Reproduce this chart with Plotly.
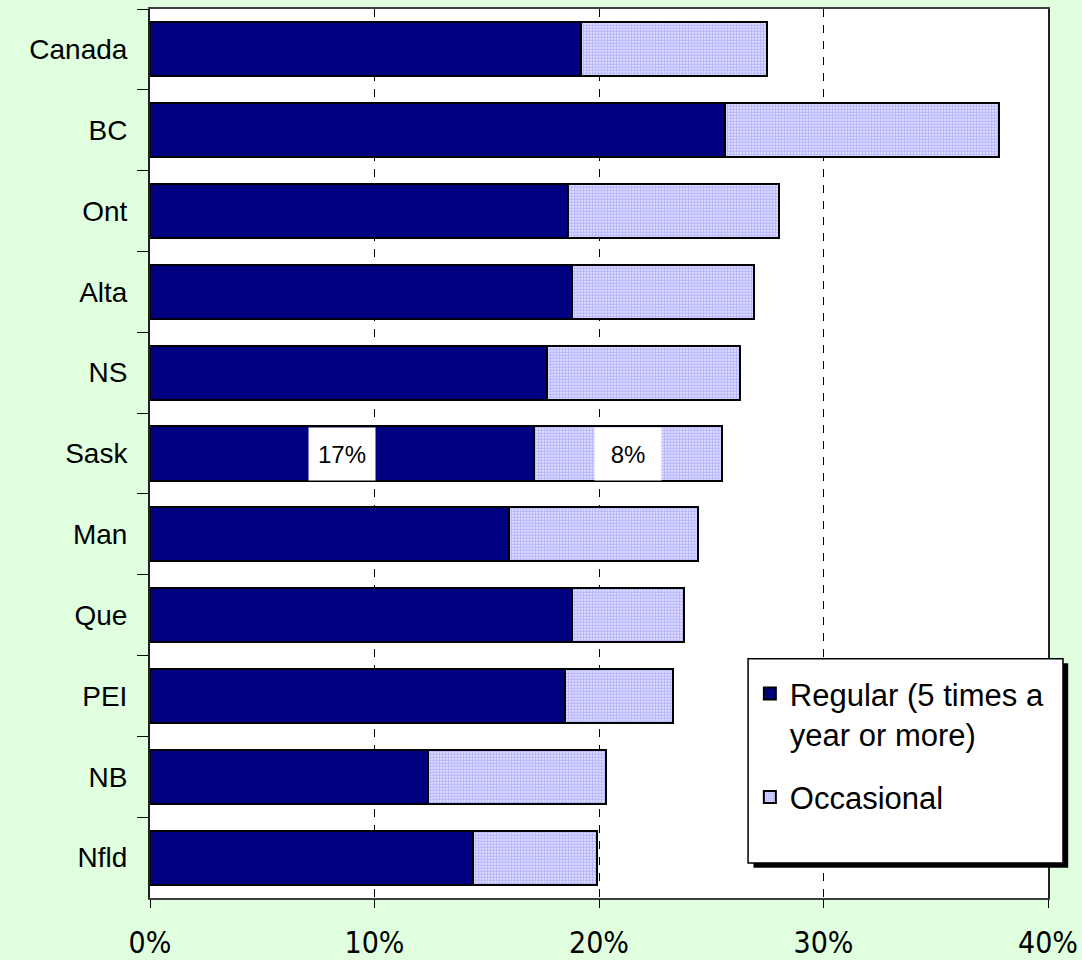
import plotly.graph_objects as go

categories = ["Canada", "BC", "Ont", "Alta", "NS", "Sask", "Man", "Que", "PEI", "NB", "Nfld"]
regular = [19.2, 25.6, 18.6, 18.8, 17.7, 17.1, 16.0, 18.8, 18.5, 12.4, 14.4]
occasional = [8.3, 12.2, 9.4, 8.1, 8.6, 8.4, 8.4, 5.0, 4.8, 7.9, 5.5]
x_ticks = [0, 10, 20, 30, 40]
x_tick_labels = ["0%", "10%", "20%", "30%", "40%"]
labelled_category = "Sask"

fig = go.Figure()
fig.add_trace(go.Bar(
    y=categories, x=regular, orientation="h", name="Regular (5 times a<br>year or more)",
    marker=dict(color="#000080", line=dict(color="black", width=2)),
    legendgroup="a",
))
fig.add_trace(go.Bar(
    y=categories, x=occasional, orientation="h", name="Occasional",
    marker=dict(color="#ccccff", line=dict(color="black", width=2),
                pattern=dict(shape=".", size=3, solidity=0.7, fgcolor="#7878ff", bgcolor="#f4f4ff")),
    legendgroup="b",
))

i = categories.index(labelled_category)
for xv, val in [(regular[i] / 2, regular[i]), (regular[i] + occasional[i] / 2, occasional[i])]:
    fig.add_annotation(x=xv, y=labelled_category, text=f"{round(val)}%", showarrow=False,
                       bgcolor="white", width=64, height=50,
                       font=dict(family="Liberation Sans, Arial", size=24, color="black"))

# legend box with shadow
fig.add_shape(type="rect", xref="paper", yref="paper", x0=0.672, x1=1.0225, y0=0.034, y1=0.264,
              fillcolor="black", line=dict(width=0), layer="above")
fig.add_shape(type="rect", xref="paper", yref="paper", x0=0.666, x1=1.0167, y0=0.0394, y1=0.269,
              fillcolor="white", line=dict(color="black", width=1.5), layer="above")

fig.update_layout(
    width=1082, height=960,
    barmode="stack", bargap=0.33,
    paper_bgcolor="#dfffdf", plot_bgcolor="white",
    margin=dict(l=150, r=34, t=9, b=62),
    font=dict(family="Liberation Sans, Arial", color="black"),
    legend=dict(x=0.668, y=0.26, xanchor="left", yanchor="top", bgcolor="rgba(0,0,0,0)",
                borderwidth=0, font=dict(size=31, family="Liberation Sans, Arial"),
                tracegroupgap=20, valign="top", traceorder="grouped"),
    xaxis=dict(range=[0, 40], tickvals=x_ticks, ticktext=x_tick_labels, automargin=False,
               showgrid=True, gridcolor="black", gridwidth=1, griddash="8px,8px",
               showline=True, linecolor="#404040", linewidth=2, mirror=True,
               ticks="outside", ticklen=8, tickcolor="black", zeroline=False,
               tickfont=dict(family="Liberation Sans Narrow, DejaVu Sans Condensed, Liberation Sans", size=30),
               ticklabelstandoff=9, ticklabeloverflow="allow"),
    yaxis=dict(autorange="reversed", showline=True, linecolor="#202020", linewidth=2, mirror=True,
               ticks="outside", ticklen=11, tickcolor="black", tickson="boundaries", automargin=False,
               tickfont=dict(size=28), ticklabelstandoff=15, showgrid=False),
)

fig.write_html("out.html", config={"displayModeBar": False},
               post_script="document.body.style.margin='0';document.body.style.background='#dfffdf';")
